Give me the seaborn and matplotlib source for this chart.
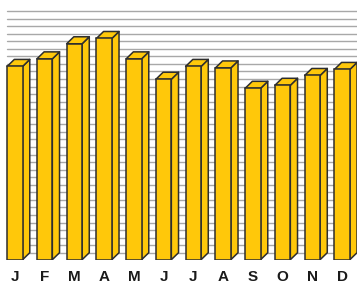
import matplotlib
matplotlib.use("Agg")
import matplotlib.pyplot as plt
from matplotlib.patches import Polygon
import seaborn as sns
import pandas as pd

months = ["Jan", "Feb", "Mar", "Apr", "May", "Jun", "Jul", "Aug", "Sep", "Oct", "Nov", "Dec"]
labels = ["J", "F", "M", "A", "M", "J", "J", "A", "S", "O", "N", "D"]
values = [25.6, 26.6, 28.6, 29.3, 26.6, 23.9, 25.6, 25.4, 22.7, 23.1, 24.4, 25.2]
grid_levels = list(range(0, 33))

df = pd.DataFrame({"month": months, "value": values})

sns.set_theme(style="white")
plt.rcParams["font.family"] = ["Liberation Sans", "DejaVu Sans"]

W, H = 357, 284
fig = plt.figure(figsize=(W / 100, H / 100), dpi=100)
bottom_px = 259.7
ax = fig.add_axes([0, (H - bottom_px) / H, 1, bottom_px / H])

px_x = 30.25          # pixels per category
px_y = 7.55           # pixels per unit
x0 = -(7 + 15.7 / 2) / px_x
ax.set_xlim(x0, x0 + W / px_x)
ax.set_ylim(0, bottom_px / px_y)

face = "#FFC80A"
edge = "#2e2e2e"
dx = 7.3 / px_x
dy = 7.0 / px_y

for lv in grid_levels:
    ax.axhline(lv + dy, xmin=7 / W, xmax=1, color="#a8a8a8", lw=1.0, zorder=0)

sns.barplot(data=df, x="month", y="value", order=months, color=face, saturation=1,
            width=15.7 / px_x, edgecolor=edge, linewidth=1.1, ax=ax, zorder=3)

for p in list(ax.patches):
    xa = p.get_x()
    xb = xa + p.get_width()
    h = p.get_height()
    side = Polygon([(xb, 0), (xb + dx, dy), (xb + dx, h + dy), (xb, h)], closed=True,
                   facecolor=face, edgecolor=edge, lw=1.1, zorder=2.5, joinstyle="round")
    top = Polygon([(xa, h), (xa + dx, h + dy), (xb + dx, h + dy), (xb, h)], closed=True,
                  facecolor=face, edgecolor=edge, lw=1.1, zorder=2.5, joinstyle="round")
    ax.add_patch(side)
    ax.add_patch(top)

ax.set_xticks(range(len(labels)))
ax.set_xticklabels(labels, fontsize=11, fontweight="bold", color="#1a1a1a")
ax.tick_params(axis="x", length=0, pad=7.5)
ax.set_yticks([])
ax.set_xlabel("")
ax.set_ylabel("")
for s in ax.spines.values():
    s.set_visible(False)
ax.set_facecolor("none")

fig.savefig("out.png", dpi=100)
